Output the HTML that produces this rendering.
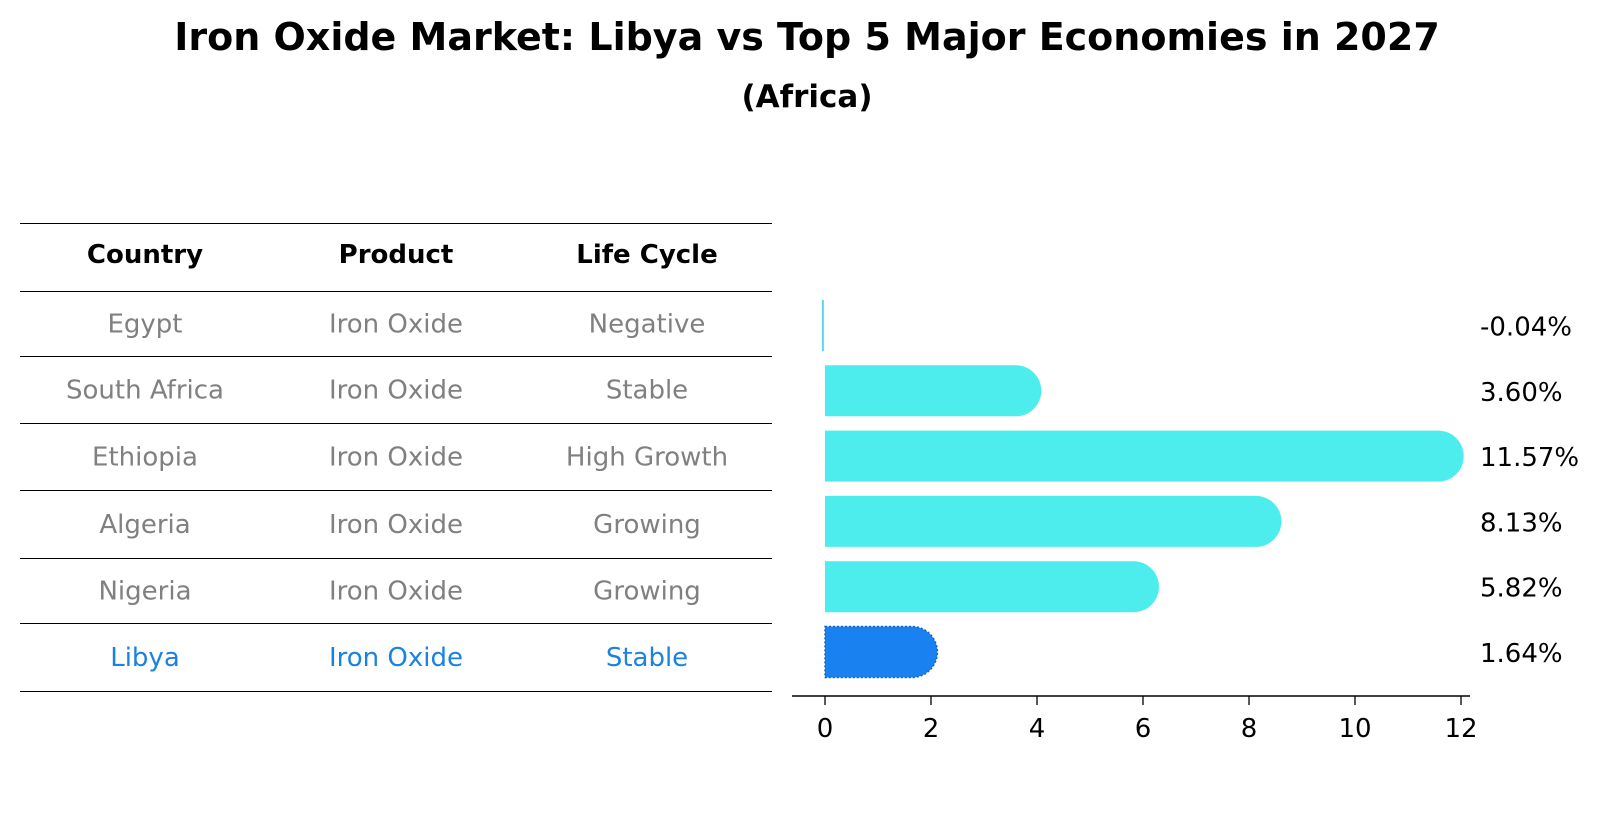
<!DOCTYPE html>
<html><head><meta charset="utf-8"><style>
body{margin:0;background:#fff;font-family:"Liberation Sans","DejaVu Sans",sans-serif}
#c{position:relative;width:1604px;height:823px;overflow:hidden}
</style></head><body>
<div id="c">
<svg id="s" width="1604" height="823" xmlns="http://www.w3.org/2000/svg" style="font-family:'DejaVu Sans','Liberation Sans',sans-serif">
<text x="807" y="50" text-anchor="middle" font-size="38" font-weight="bold">Iron Oxide Market: Libya vs Top 5 Major Economies in 2027</text>
<text x="807" y="107" text-anchor="middle" font-size="31" font-weight="bold">(Africa)</text>
<g id="table"></g>
<g id="bars"></g>
</svg>
</div>
<script>
const countries=["Egypt","South Africa","Ethiopia","Algeria","Nigeria","Libya"];
const products=["Iron Oxide","Iron Oxide","Iron Oxide","Iron Oxide","Iron Oxide","Iron Oxide"];
const lifeCycles=["Negative","Stable","High Growth","Growing","Growing","Stable"];
const growth=[-0.04,3.60,11.57,8.13,5.82,1.64];
const valueLabels=["-0.04%","3.60%","11.57%","8.13%","5.82%","1.64%"];
const xTicks=[0,2,4,6,8,10,12];
const headers=["Country","Product","Life Cycle"];

const NS="http://www.w3.org/2000/svg";
function mk(t,a,p,txt){const e=document.createElementNS(NS,t);for(const k in a)e.setAttribute(k,a[k]);if(txt!==undefined)e.textContent=txt;p.appendChild(e);return e;}
const tbl=document.getElementById('table'),bars=document.getElementById('bars');
const colX=[145,396,647];
const FS=26;
// table
const lineYs=[223,291,356,423,490,558,623,691];
lineYs.forEach((y)=>{const l=mk('line',{x1:20,x2:772,y1:y+0.5,y2:y+0.5,stroke:'#000','stroke-width':1},tbl);

});
headers.forEach((h,j)=>{const t=mk('text',{x:colX[j],y:263,'text-anchor':'middle','font-size':FS,'font-weight':'bold'},tbl,h);

});
countries.forEach((c,i)=>{const col=c==="Libya"?"#1a82e0":"#808080";const y=(lineYs[i+1]+lineYs[i+2])/2+9;
[c,products[i],lifeCycles[i]].forEach((v,j)=>{const t=mk('text',{x:colX[j],y:y,'text-anchor':'middle','font-size':FS,fill:col},tbl,v);

});});
// bar chart
const x0=825,pxu=53;const xs=v=>x0+v*pxu;
const bh=51;const cy=i=>325.5+i*65.3;
growth.forEach((v,i)=>{const y=cy(i)-bh/2;let e;
if(v<=0){e=mk('rect',{x:xs(v)-1,y:y,width:2,height:bh,fill:'#5cd6f0'},bars);}
else{const x1=xs(v),r=bh/2;const fill=countries[i]==="Libya"?"#1a82f0":"#4cedec";
e=mk('path',{d:`M${x0},${y}H${x1}A${r},${r} 0 0 1 ${x1},${y+bh}H${x0}Z`,fill:fill},bars);
if(countries[i]==="Libya"){e.setAttribute('stroke','#1565c0');e.setAttribute('stroke-dasharray','2,2');e.setAttribute('stroke-width','1.5');}}


const t=mk('text',{x:1480,y:cy(i)+10,'font-size':FS},bars,valueLabels[i]);

});
const ax=mk('line',{x1:792,x2:1470,y1:696,y2:696,stroke:'#000','stroke-width':1.6},bars);


xTicks.forEach(v=>{const tk=mk('line',{x1:xs(v),x2:xs(v),y1:696,y2:705,stroke:'#000','stroke-width':1.3},bars);


const t=mk('text',{x:xs(v),y:737,'text-anchor':'middle','font-size':FS},bars,String(v));

});
</script>
</body></html>
